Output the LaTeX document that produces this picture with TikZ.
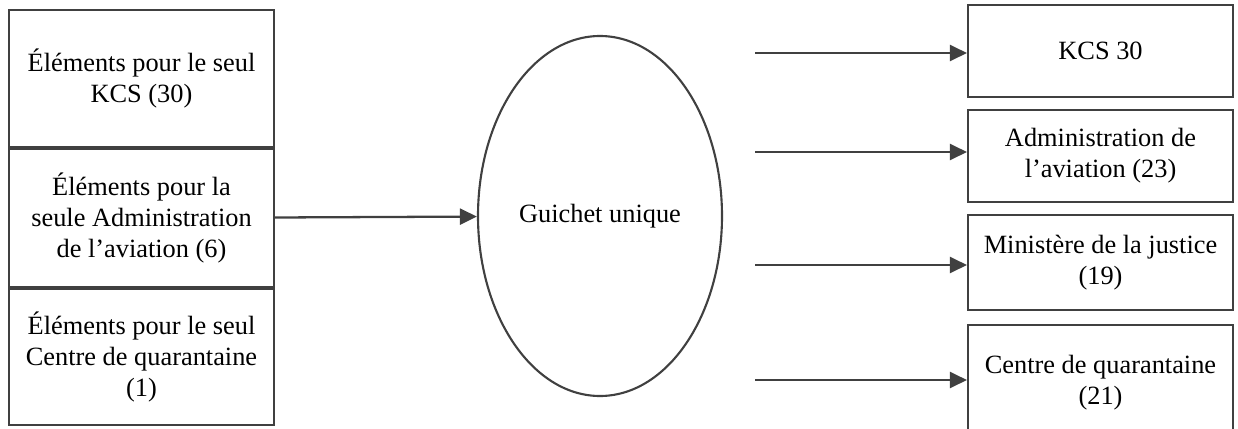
\documentclass[tikz,border=0pt]{standalone}
\usepackage{fontspec}
\setmainfont{Liberation Serif}
\usetikzlibrary{positioning,shapes.geometric,arrows.meta}

\begin{document}
\begin{tikzpicture}[
  box/.style={draw=black!75, line width=1.2pt, minimum width=5.3cm, align=center, inner sep=2pt, font=\fontsize{15}{17.5}\selectfont},
  oval/.style={ellipse, draw=black!75, line width=1.2pt, minimum width=4.88cm, minimum height=7.2cm, inner sep=0pt, font=\fontsize{15}{17.5}\selectfont},
  arrow/.style={-{Triangle[length=0.34cm, width=0.32cm]}, line width=1.3pt, draw=black!75},
]
\clip (0,0) rectangle (24.76,8.56);

% Left column: items for a single office
\node[box, minimum height=2.74cm] (kcsonly) at (2.83,6.99) {Éléments pour le seul\\KCS (30)};
\node[box, minimum height=2.76cm, below=0pt of kcsonly] (aviationonly) {Éléments pour la\\seule Administration\\de l’aviation (6)};
\node[box, minimum height=2.72cm, below=0pt of aviationonly] (quarantineonly) {Éléments pour le seul\\Centre de quarantaine\\(1)};

% Centre: single window
\node[oval] (guichet) at (12.0,4.24) {Guichet unique};
\draw[arrow] (aviationonly) -- (guichet);

% Right column: receiving offices
\node[box, minimum height=1.84cm] (kcs) at (22.01,7.54) {KCS 30};
\node[box, minimum height=1.84cm] (aviation) at (22.01,5.44) {Administration de\\l’aviation (23)};
\node[box, minimum height=1.90cm] (justice) at (22.01,3.31) {Ministère de la justice\\(19)};
\node[box, minimum height=2.30cm] (quarantine) at (22.01,0.91) {Centre de quarantaine\\(21)};

\coordinate (outkcs) at (15.1,7.50);
\coordinate (outaviation) at (15.1,5.52);
\coordinate (outjustice) at (15.1,3.26);
\coordinate (outquarantine) at (15.1,0.96);

\draw[arrow] (outkcs) -- (outkcs -| kcs.west);
\draw[arrow] (outaviation) -- (outaviation -| aviation.west);
\draw[arrow] (outjustice) -- (outjustice -| justice.west);
\draw[arrow] (outquarantine) -- (outquarantine -| quarantine.west);

\end{tikzpicture}
\end{document}
